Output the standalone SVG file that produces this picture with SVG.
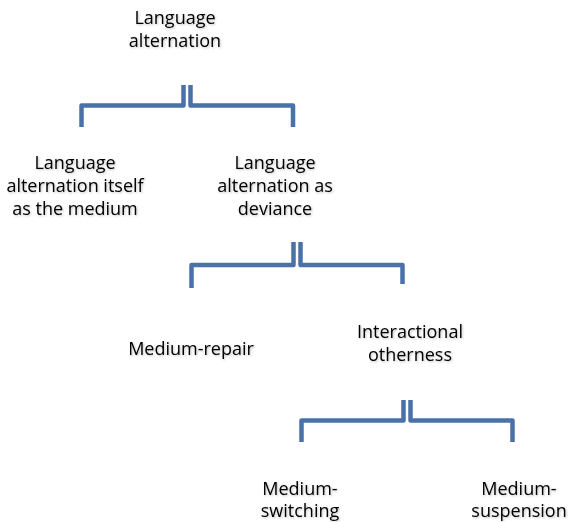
<svg xmlns="http://www.w3.org/2000/svg" width="571" height="522" viewBox="0 0 571 522">
<defs>
<filter id="sh" x="-10%" y="-20%" width="120%" height="140%">
<feDropShadow dx="1" dy="1" stdDeviation="0.9" flood-color="#000" flood-opacity="0.25"/>
</filter>
<style>
text{font-family:"Open Sans","Liberation Sans",Arial,sans-serif;font-size:18px;fill:#000;text-anchor:middle;filter:url(#sh)}
.br{fill:none;stroke:#4A72A8;stroke-width:4.5;stroke-linejoin:round}
</style>
</defs>
<rect width="571" height="522" fill="#fff"/>
<g id="connectors">
<path class="br" d="M81.5,127 V105.5 H183.5 V85"/>
<path class="br" d="M190.5,85 V105.5 H293 V127"/>
<path class="br" d="M191.5,288 V265 H293.5 V242"/>
<path class="br" d="M300.5,242 V265 H402.5 V284"/>
<path class="br" d="M301.5,442 V420.5 H403.5 V400"/>
<path class="br" d="M410.5,400 V420.5 H512.5 V442"/>
</g>
<g id="n-root"><text x="175" y="24">Language</text><text x="175" y="47">alternation</text></g>
<g id="n-medium"><text x="75" y="169">Language</text><text x="75" y="192">alternation itself</text><text x="75" y="215">as the medium</text></g>
<g id="n-deviance"><text x="275" y="169">Language</text><text x="275" y="192">alternation as</text><text x="275" y="215">deviance</text></g>
<g id="n-repair"><text x="191" y="355">Medium-repair</text></g>
<g id="n-otherness"><text x="410" y="338">Interactional</text><text x="410" y="361">otherness</text></g>
<g id="n-switching"><text x="300" y="495">Medium-</text><text x="300" y="517">switching</text></g>
<g id="n-suspension"><text x="519" y="495">Medium-</text><text x="519" y="517">suspension</text></g>
</svg>
